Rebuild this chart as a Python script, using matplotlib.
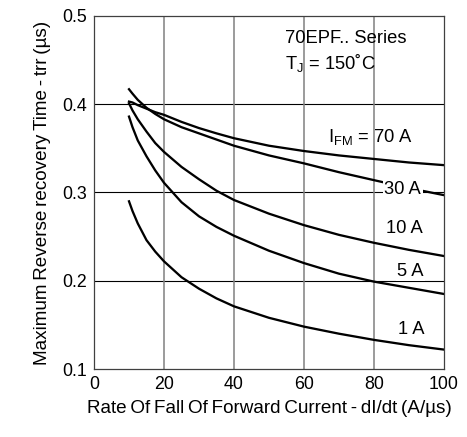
import numpy as np
import matplotlib
matplotlib.use('Agg')
import matplotlib.pyplot as plt

plt.rcParams['font.family'] = ['Liberation Sans', 'DejaVu Sans']

# dI/dt (A/us)
didt = [10, 11, 12.5, 15, 17.5, 20, 25, 30, 35, 40, 50, 60, 70, 80, 90, 100]

# trr (us) for each forward current
trr_1a = [0.290, 0.279, 0.265, 0.246, 0.233, 0.222, 0.204, 0.191, 0.180, 0.171,
          0.158, 0.148, 0.140, 0.133, 0.127, 0.122]
trr_5a = [0.386, 0.374, 0.359, 0.341, 0.325, 0.311, 0.289, 0.273, 0.261, 0.251,
          0.234, 0.220, 0.208, 0.199, 0.192, 0.185]
trr_10a = [0.401, 0.393, 0.383, 0.369, 0.356, 0.346, 0.329, 0.315, 0.302, 0.2915,
           0.276, 0.263, 0.252, 0.243, 0.235, 0.228]
trr_30a = [0.417, 0.412, 0.405, 0.396, 0.389, 0.383, 0.374, 0.367, 0.360, 0.353,
           0.342, 0.333, 0.323, 0.314, 0.305, 0.297]
trr_70a = [0.403, 0.402, 0.399, 0.395, 0.391, 0.388, 0.380, 0.373, 0.367, 0.3615,
           0.353, 0.347, 0.342, 0.338, 0.334, 0.331]

xticks = [0, 20, 40, 60, 80, 100]
yticks = [0.1, 0.2, 0.3, 0.4, 0.5]

fig = plt.figure(figsize=(4.67, 4.37), dpi=100)
ax = fig.add_axes([0.2013, 0.1556, 0.7494, 0.8078])

for y in [0.2, 0.3, 0.4]:
    ax.axhline(y, color='black', lw=0.8, zorder=1)
for x in [20, 40, 60, 80]:
    ax.axvline(x, color='#808080', lw=1.1, zorder=1)

for trr in [trr_1a, trr_5a, trr_10a, trr_30a, trr_70a]:
    ax.plot(didt, trr, color='black', lw=1.65, zorder=2, solid_joinstyle='round')

ax.set_xlim(0, 100)
ax.set_ylim(0.1, 0.5)
ax.set_xticks(xticks)
ax.set_yticks(yticks)
ax.set_xticklabels([str(t) for t in xticks])
ax.set_yticklabels(['%.1f' % t for t in yticks])
ax.tick_params(length=0, labelsize=12.8, pad=5)
for s in ax.spines.values():
    s.set_color('#404040')
    s.set_linewidth(0.9)

fs = 13.2
bb = dict(facecolor='white', edgecolor='none', pad=1)
ax.text(54.6, 0.475, '70EPF.. Series', fontsize=fs, va='center', zorder=3)
ax.text(54.6, 0.447, r'T$_\mathregular{J}$ = 150˚C', fontsize=fs, va='center', zorder=3)
ax.text(66.9, 0.363, r'I$_\mathregular{FM}$ = 70 A', fontsize=fs, va='center', zorder=3)
ax.text(83, 0.303, '30 A', fontsize=fs, va='center', bbox=bb, zorder=3)
ax.text(83.4, 0.259, '10 A', fontsize=fs, va='center', zorder=3)
ax.text(86.6, 0.211, '5 A', fontsize=fs, va='center', bbox=bb, zorder=3)
ax.text(86.9, 0.145, '1 A', fontsize=fs, va='center', zorder=3)

ax.set_xlabel('Rate\u2009Of\u2009Fall\u2009Of\u2009Forward\u2009Current\u2009-\u2009dI/dt\u2009(A/µs)', fontsize=13.6, labelpad=5)
ax.set_ylabel('Maximum\u2009Reverse\u2009recovery\u2009Time\u2009-\u2009trr\u2009(µs)', fontsize=13.6, labelpad=8)

fig.savefig('out.png', dpi=100)
